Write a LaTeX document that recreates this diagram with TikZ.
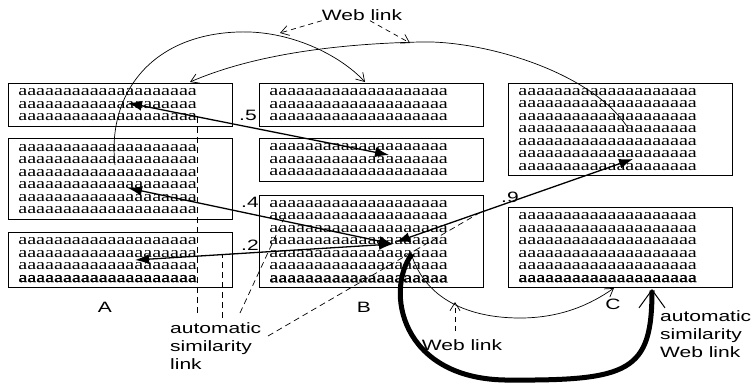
\documentclass[tikz,border=0pt]{standalone}
\usepackage{fontspec}
\setmainfont{Liberation Serif}
\newfontfamily\boxfont[FakeStretch=1.34]{Liberation Serif}
\newfontfamily\boxboldfont[FakeStretch=1.34,FakeBold=1.6]{Liberation Serif}
\newfontfamily\labelfont[FakeStretch=1.4]{Liberation Sans}
\usetikzlibrary{arrows.meta}
% one line of filler text inside the document boxes
\newcommand\arow{aaaaaaaaaaaaaaaaaaaa}
\newcommand\brow{{\boxboldfont\arow}}
\begin{document}
\begin{tikzpicture}[x=1pt,y=-1pt,
  textbox/.style={draw, line width=0.8pt, anchor=north west, align=left,
    text width=204pt, inner xsep=10pt, inner ysep=0pt, minimum width=224pt,
    font=\boxfont\fontsize{15}{12.5}\selectfont},
  tag/.style={inner sep=0pt, font=\labelfont\fontsize{15}{18}\selectfont},
  simarrow/.style={line width=1.3pt,
    {Latex[length=14pt,width=10pt]}-{Latex[length=14pt,width=10pt]}},
  weblink/.style={line width=0.7pt, -{Straight Barb[length=8pt,width=10pt]}},
  webpointer/.style={line width=0.7pt, dash pattern=on 5pt off 4pt,
    -{Straight Barb[length=8pt,width=10pt]}},
  simpointer/.style={line width=0.7pt, dash pattern=on 6pt off 4pt},
  simweb/.style={line width=5pt,
    -{Straight Barb[line width'=1pt, length=18pt, width=26pt]}}
]
\useasboundingbox (0,0) rectangle (753,384);

% document boxes
\node[textbox, minimum height=43pt] (A1) at (8,83) {\arow\\\arow\\\arow};
\node[textbox, minimum height=81pt] (A2) at (8,138) {\arow\\\arow\\\arow\\\arow\\\arow\\\arow};
\node[textbox, minimum height=55pt] (A3) at (8,232) {\arow\\\arow\\\arow\\\brow};
\node[textbox, minimum height=43pt] (B1) at (259,83) {\arow\\\arow\\\arow};
\node[textbox, minimum height=43pt] (B2) at (259,138) {\arow\\\arow\\\arow};
\node[textbox, minimum height=92pt] (B3) at (259,195) {\arow\\\arow\\\arow\\\arow\\\arow\\\arow\\\brow};
\node[textbox, minimum height=92pt] (C1) at (508,83) {\arow\\\arow\\\arow\\\arow\\\arow\\\arow\\\arow};
\node[textbox, minimum height=80pt] (C2) at (508,207) {\arow\\\arow\\\arow\\\arow\\\arow\\\brow};

% labels
\node[tag] (wtop) at (362,15) {Web link};
\node[tag] (wbot) at (462,345) {Web link};
\node[tag, align=left, anchor=north west] (simlab) at (170,322) {automatic\\similarity\\link};
\node[tag, align=left, anchor=north west] (simweblab) at (660,310) {automatic\\similarity\\Web link};
\node[tag] (la) at (105,307) {A};
\node[tag] (lb) at (364,307) {B};
\node[tag] (lc) at (613,304) {C};
\node[tag] (w5) at (248,115) {.5};
\node[tag] (w4) at (250,202) {.4};
\node[tag] (w2) at (250,245) {.2};
\node[tag] (w9) at (510,197) {.9};

% end points inside the boxes
\coordinate (a1s) at (128,103);
\coordinate (b2s) at (389,155);
\coordinate (a2s) at (128,188);
\coordinate (b3s) at (393,244);
\coordinate (a3s) at (135,260);
\coordinate (c1s) at (633,159);
\coordinate (b3u) at (396,242);

% weighted similarity links
\draw[simarrow] (a1s) -- (b2s);
\draw[simarrow] (a2s) -- (b3s);
\draw[simarrow] (a3s) -- (b3s);
\draw[simarrow] (c1s) -- (b3u);

% plain Web links
\coordinate (a2w) at (115,165);
\coordinate (b1w) at (365,82);
\coordinate (top1) at (238,32);
\draw[weblink] (a2w) .. controls (107,95) and (150,35) .. (top1)
  .. controls (290,30) and (340,55) .. (b1w);
\coordinate (c1w) at (628,128);
\coordinate (a1w) at (190,82);
\coordinate (top2) at (420,42);
\draw[weblink] (c1w) .. controls (590,70) and (480,40) .. (top2)
  .. controls (330,44) and (250,56) .. (a1w);
\coordinate (b3w) at (411,253);
\coordinate (c2w) at (614,288);
\coordinate (low3) at (520,318);
\draw[weblink] (b3w) .. controls (425,300) and (470,318) .. (low3)
  .. controls (560,318) and (590,305) .. (c2w);

% Web link that is also a similarity link
\coordinate (b3x) at (412,254);
\coordinate (c2x) at (652,289);
\coordinate (bot) at (505,380);
\draw[simweb] (b3x) .. controls (385,290) and (400,378) .. (bot)
  .. controls (630,381) and (652,372) .. (c2x);

% pointers from the "Web link" labels
\coordinate (wt1) at (280,33);
\coordinate (wt2) at (410,43);
\draw[webpointer] (wtop.south west) -- (wt1);
\draw[webpointer] ([xshift=8pt]wtop.south) -- (wt2);
\coordinate (wb0) at (455,331);
\coordinate (wb1) at (455,302);
\draw[webpointer] (wb0) -- (wb1);

% pointers from the "automatic similarity link" label
\coordinate (s1a) at (197,313); \coordinate (s1b) at (197,115);
\coordinate (s2a) at (222,318); \coordinate (s2b) at (222,255);
\coordinate (s3a) at (240,313); \coordinate (s3b) at (284,218);
\coordinate (s4a) at (268,336); \coordinate (s4b) at (481,212);
\draw[simpointer] (s1a) -- (s1b);
\draw[simpointer] (s2a) -- (s2b);
\draw[simpointer] (s3a) -- (s3b);
\draw[simpointer] (s4a) -- (s4b);
\end{tikzpicture}
\end{document}
